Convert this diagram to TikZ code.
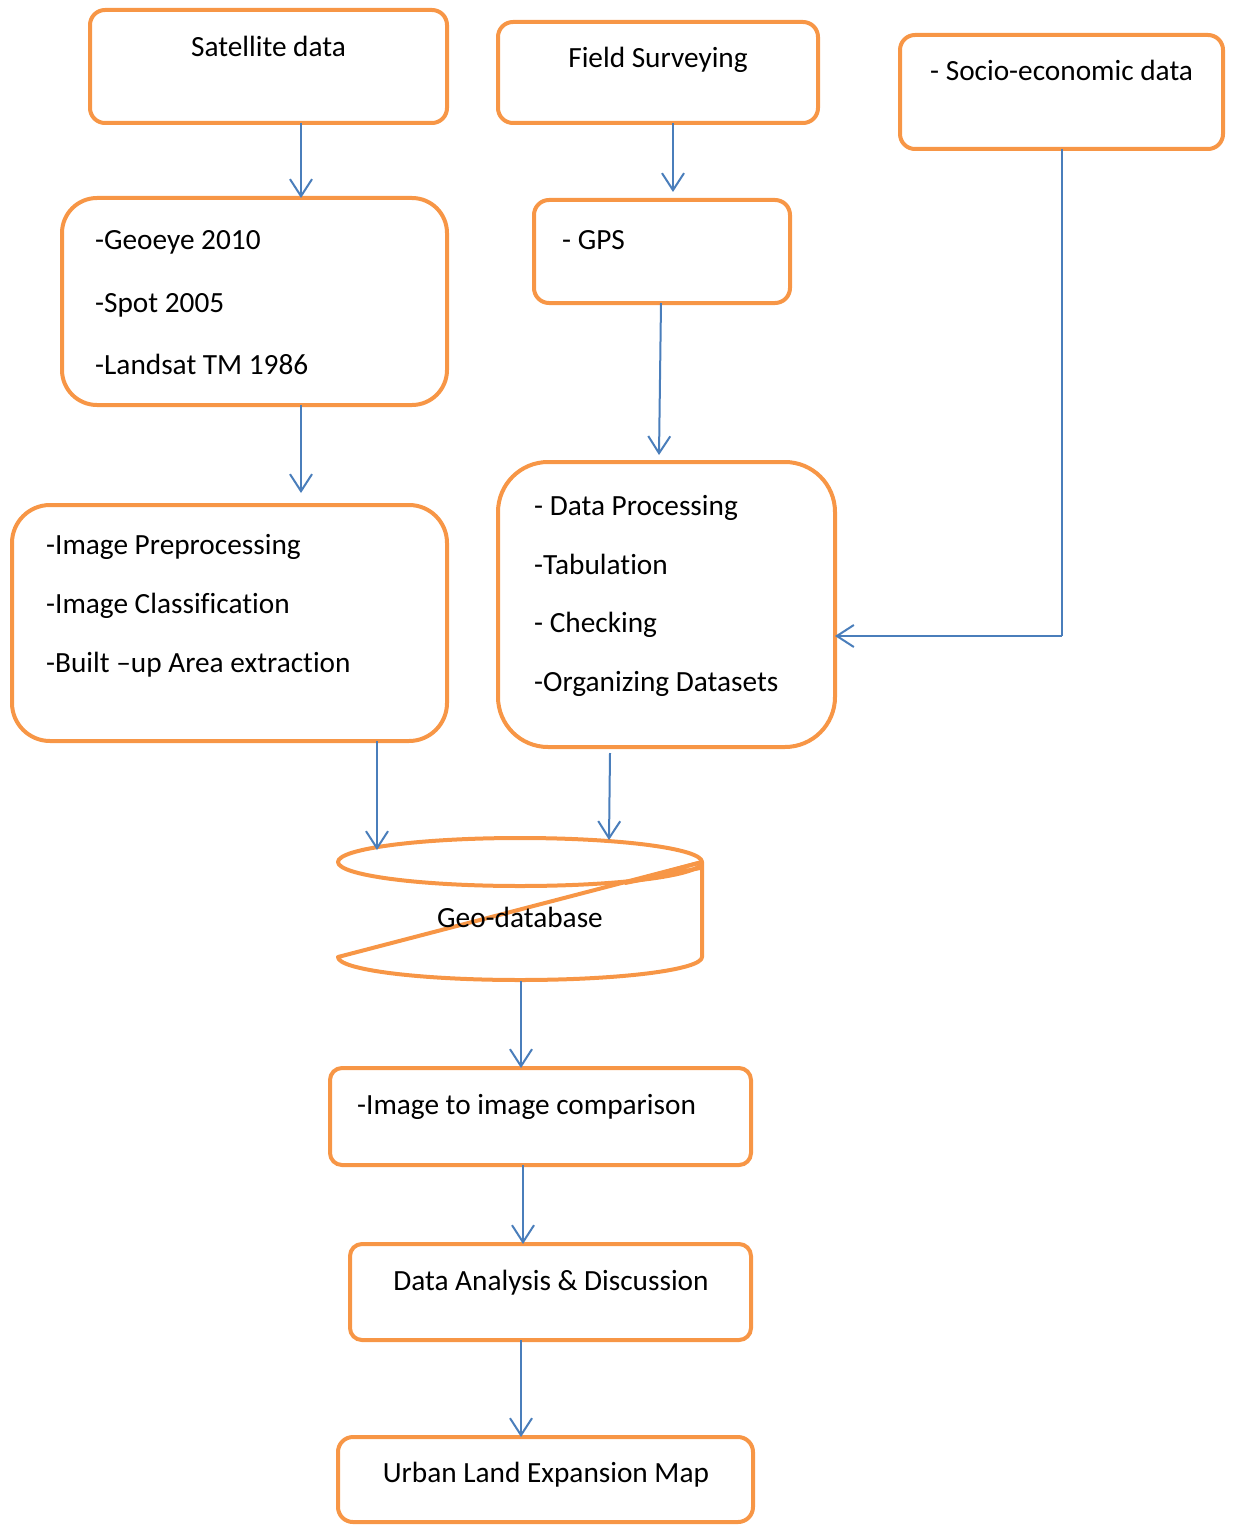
\documentclass[tikz,border=0pt]{standalone}
\usepackage{fontspec}
\setmainfont{Carlito}[Ligatures=NoCommon]
\usetikzlibrary{arrows.meta}
\definecolor{boxor}{HTML}{F79646}
\definecolor{arrbl}{HTML}{4A7EBB}
\begin{document}
\begin{tikzpicture}[x=1pt,y=-1pt,
  box/.style={draw=boxor,line width=4pt,rectangle,inner sep=0pt,outer sep=0pt},
  txt/.style={inner sep=0pt,font=\fontsize{29.3}{34}\selectfont,anchor=base west},
  ctxt/.style={inner sep=0pt,font=\fontsize{29.3}{34}\selectfont,anchor=base},
  arr/.style={draw=arrbl,line width=2pt,-{Straight Barb[length=17pt,width=22pt,line width=2pt]}}]
\useasboundingbox (0,0) rectangle (1233,1525);
% boxes
\node[box,rounded corners=15pt,minimum width=357pt,minimum height=113pt] (sat) at (268.5,66.5) {};
\node[box,rounded corners=15pt,minimum width=320pt,minimum height=101pt] (field) at (658,72.5) {};
\node[box,rounded corners=15pt,minimum width=323pt,minimum height=114pt] (socio) at (1061.5,92) {};
\node[box,rounded corners=35pt,minimum width=385pt,minimum height=207pt] (geo) at (254.5,301.5) {};
\node[box,rounded corners=15pt,minimum width=256pt,minimum height=103pt] (gps) at (662,251.5) {};
\node[box,rounded corners=38pt,minimum width=435pt,minimum height=236pt] (imgpre) at (229.5,623) {};
\node[box,rounded corners=50pt,minimum width=337pt,minimum height=285pt] (dproc) at (666.5,604.5) {};
\node[box,rounded corners=12pt,minimum width=421pt,minimum height=97pt] (comp) at (540.5,1116.5) {};
\node[box,rounded corners=12pt,minimum width=401pt,minimum height=96pt] (anal) at (550.5,1292) {};
\node[box,rounded corners=15pt,minimum width=415pt,minimum height=85pt] (urban) at (545.5,1479.5) {};
% texts
\node[ctxt] (tsat) at (268.5,57) {Satellite data};
\node[ctxt] (tfield) at (658,68) {Field Surveying};
\node[txt] (tsocio) at (930,81) {- Socio-economic data};
\node[txt] (tg1) at (95,249) {-Geoeye 2010};
\node[txt] (tg2) at (95,312) {-Spot 2005};
\node[txt] (tg3) at (95,374) {-Landsat TM 1986};
\node[txt] (tgps) at (562,249) {- GPS};
\node[txt] (ti1) at (46,554) {-Image Preprocessing};
\node[txt] (ti2) at (46,613) {-Image Classification};
\node[txt] (ti3) at (46,672) {-Built --up Area extraction};
\node[txt] (td1) at (534,515) {- Data Processing};
\node[txt] (td2) at (534,574) {-Tabulation};
\node[txt] (td3) at (534,632) {- Checking};
\node[txt] (td4) at (534,691) {-Organizing Datasets};
\node[txt] (tcomp) at (357,1114) {-Image to image comparison};
\node[ctxt] (tanal) at (551,1290) {Data Analysis \& Discussion};
\node[ctxt] (turban) at (546,1482) {Urban Land Expansion Map};
% geo-database
\draw[draw=boxor,line width=4pt,line join=round]
  (520,862) ellipse [x radius=182pt,y radius=24pt];
\draw[draw=boxor,line width=4pt,line join=round]
  (702,862) -- (338,957) arc[start angle=180,end angle=360,x radius=182pt,y radius=23pt] -- cycle;
\draw[draw=boxor,line width=4pt,line join=round]
  (702,862) -- (625,883) -- (700,868);
\node[ctxt] (db) at (520,927) {Geo-database};
\coordinate (dbin1) at (377,850);
\coordinate (dbin2) at (609,840);
\coordinate (dbout) at (521,981);
\coordinate (corner) at (1062,636);
% arrows
\coordinate (a1) at (301,0);
\draw[arr] (sat.south -| a1) -- (geo.north -| a1);
\draw[arr] (field.south -| 673,0) -- (673,192);
\draw[arr] (gps.south -| 661,0) -- (659,455);
\draw[arr] (geo.south -| a1) -- (301,493);
\draw[draw=arrbl,line width=2pt] (socio.south -| corner) -- (corner);
\draw[arr] (corner) -- (dproc.east |- corner);
\draw[arr] (imgpre.south -| dbin1) -- (dbin1);
\draw[arr] (610,753) -- (dbin2);
\draw[arr] (dbout) -- (comp.north -| dbout);
\draw[arr] (comp.south -| 523,0) -- (anal.north -| 523,0);
\draw[arr] (anal.south -| 521,0) -- (urban.north -| 521,0);
\end{tikzpicture}
\end{document}
